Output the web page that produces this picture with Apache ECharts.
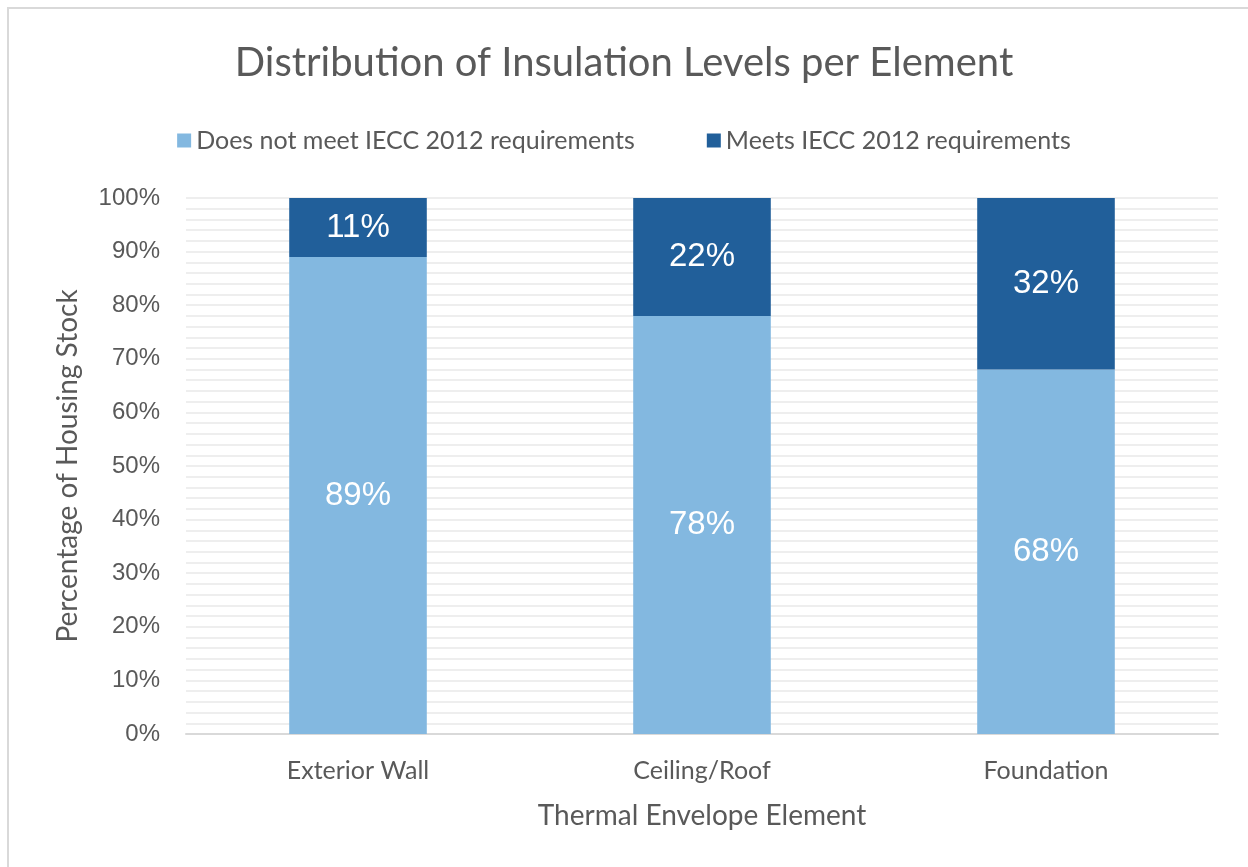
<!DOCTYPE html>
<html>
<head>
<meta charset="utf-8">
<script src="https://cdn.jsdelivr.net/npm/echarts@6/dist/echarts.min.js"></script>
<style>
  html, body { margin: 0; padding: 0; background: #fff; }
  .frame {
    position: absolute; left: 7px; top: 7px; width: 1241px; height: 860px;
    border-left: 2px solid #d9d9d9; border-top: 2px solid #d9d9d9; box-sizing: border-box;
  }
  #chart { position: absolute; left: 0; top: 0; width: 1248px; height: 867px; }
</style>
</head>
<body>
<div class="frame"></div>
<div id="chart"></div>
<script>
// chart data
const categories = ['Exterior Wall', 'Ceiling/Roof', 'Foundation']
const doesNotMeet = [89, 78, 68]
const meets = [11, 22, 32]
const seriesNames = ['Does not meet IECC 2012 requirements', 'Meets IECC 2012 requirements']

const chart = echarts.init(document.getElementById('chart'))

const barLabel = {
  show: true,
  color: '#ffffff',
  fontSize: 33,
  fontFamily: 'Liberation Sans, Arial, sans-serif',
  formatter: (p) => p.value + '%'
}

chart.setOption({
  animation: false,
  title: {
    text: 'Distribution of Insulation Levels per Element',
    left: 'center',
    top: 38,
    textStyle: {
      color: '#595959',
      fontSize: 40,
      fontWeight: 'normal',
      fontFamily: 'Lato, sans-serif'
    }
  },
  legend: {
    data: seriesNames,
    top: 123,
    left: 'center',
    itemWidth: 14,
    itemHeight: 14,
    itemGap: 72,
    icon: 'rect',
    textStyle: {
      color: '#595959',
      fontSize: 25,
      fontFamily: 'Lato, sans-serif'
    }
  },
  grid: {
    left: 186,
    right: 30,
    top: 198,
    bottom: 133
  },
  xAxis: {
    type: 'category',
    data: categories,
    name: 'Thermal Envelope Element',
    nameLocation: 'middle',
    nameGap: 68,
    nameTextStyle: {
      color: '#595959',
      fontSize: 28,
      fontFamily: 'Lato, sans-serif'
    },
    axisTick: { show: false },
    axisLine: { lineStyle: { color: '#d9d9d9', width: 2 } },
    axisLabel: {
      color: '#595959',
      fontSize: 25,
      margin: 24,
      fontFamily: 'Lato, sans-serif'
    }
  },
  yAxis: {
    type: 'value',
    min: 0,
    max: 100,
    interval: 10,
    name: 'Percentage of Housing Stock',
    nameLocation: 'middle',
    nameGap: 104,
    nameTextStyle: {
      color: '#595959',
      fontSize: 28,
      fontFamily: 'Lato, sans-serif'
    },
    axisLabel: {
      color: '#595959',
      fontSize: 24,
      margin: 26,
      fontFamily: 'Liberation Sans, Arial, sans-serif',
      formatter: '{value}%'
    },
    splitLine: { lineStyle: { color: '#eeeeee', width: 2 } },
    minorTick: { show: false, splitNumber: 5 },
    minorSplitLine: { show: true, lineStyle: { color: '#eeeeee', width: 2 } }
  },
  color: ['#83b8e0', '#215f9a'],
  series: [
    {
      name: seriesNames[0],
      type: 'bar',
      stack: 'total',
      barWidth: '40%',
      data: doesNotMeet,
      label: barLabel
    },
    {
      name: seriesNames[1],
      type: 'bar',
      stack: 'total',
      barWidth: '40%',
      data: meets,
      label: barLabel
    }
  ]
})
</script>
</body>
</html>
